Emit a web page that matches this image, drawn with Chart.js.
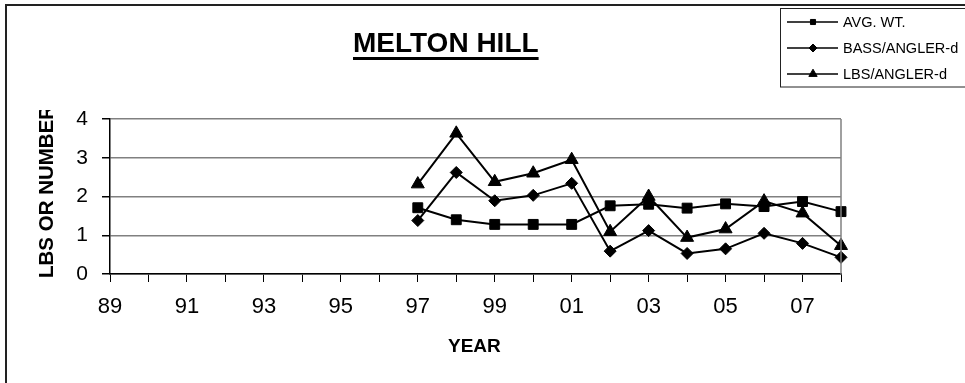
<!DOCTYPE html>
<html>
<head>
<meta charset="utf-8">
<title>Melton Hill</title>
<script src="https://cdn.jsdelivr.net/npm/chart.js@4.4.1/dist/chart.umd.min.js"></script>
<style>
  html, body { margin: 0; padding: 0; background: #fff; }
  #wrap { width: 965px; height: 383px; position: relative; }
</style>
</head>
<body>
<div id="wrap"><canvas id="meltonChart"></canvas></div>
<script>
const years = ['1989', '1990', '1991', '1992', '1993', '1994', '1995', '1996', '1997', '1998',
  '1999', '2000', '2001', '2002', '2003', '2004', '2005', '2006', '2007', '2008'];

const avgWt = [null, null, null, null, null, null, null, null,
  1.71, 1.40, 1.28, 1.28, 1.28, 1.76, 1.80, 1.70, 1.81, 1.74, 1.87, 1.61];
const bassPerAngler = [null, null, null, null, null, null, null, null,
  1.38, 2.62, 1.89, 2.03, 2.34, 0.59, 1.12, 0.53, 0.65, 1.05, 0.79, 0.43];
const lbsPerAngler = [null, null, null, null, null, null, null, null,
  2.32, 3.63, 2.38, 2.60, 2.95, 1.09, 2.00, 0.94, 1.16, 1.88, 1.57, 0.73];

const seriesNames = ['AVG. WT.', 'BASS/ANGLER-d', 'LBS/ANGLER-d'];
const yTicks = [0, 1, 2, 3, 4];

const chartTitle = 'MELTON HILL';
const xTitle = 'YEAR';
const yTitle = 'LBS OR NUMBER';

const FONT = '"Liberation Sans", Arial, sans-serif';

// frame, titles and the boxed legend drawn on the canvas
const decorations = {
  id: 'decorations',
  afterDraw(chart) {
    const ctx = chart.ctx;
    const area = chart.chartArea;
    ctx.save();

    // outer chart border (only top and left are inside the picture)
    ctx.strokeStyle = '#222';
    ctx.lineWidth = 2;
    ctx.beginPath();
    ctx.moveTo(6, 390);
    ctx.lineTo(6, 5);
    ctx.lineTo(970, 5);
    ctx.stroke();

    // plot area right edge
    ctx.strokeStyle = '#808080';
    ctx.lineWidth = 1.5;
    ctx.beginPath();
    ctx.moveTo(area.right, area.top);
    ctx.lineTo(area.right, area.bottom);
    ctx.stroke();

    // title, underlined
    ctx.fillStyle = '#000';
    ctx.font = 'bold 28px ' + FONT;
    ctx.textAlign = 'left';
    ctx.textBaseline = 'alphabetic';
    const tw = ctx.measureText(chartTitle).width;
    ctx.fillText(chartTitle, 353, 52);
    ctx.fillRect(353, 57, tw, 3);

    // x axis title
    ctx.font = 'bold 19px ' + FONT;
    ctx.textAlign = 'left';
    ctx.textBaseline = 'middle';
    ctx.fillText(xTitle, 448, 347);

    // y axis title, cut at the top like the original
    ctx.save();
    ctx.beginPath();
    ctx.rect(0, 110, 100, 280);
    ctx.clip();
    ctx.translate(47, 278);
    ctx.rotate(-Math.PI / 2);
    ctx.font = 'bold 20.5px ' + FONT;
    ctx.textAlign = 'left';
    ctx.textBaseline = 'middle';
    ctx.fillText(yTitle, 0, 0);
    ctx.restore();

    // legend box
    ctx.strokeStyle = '#222';
    ctx.lineWidth = 1;
    ctx.strokeRect(780.5, 8.5, 200, 78.5);

    const rowY = [22, 48, 74];
    const legendRadius = [3.6, 4, 4.8];
    chart.data.datasets.forEach((ds, i) => {
      const y = rowY[i];
      ctx.strokeStyle = '#000';
      ctx.fillStyle = '#000';
      ctx.lineWidth = 1.5;
      ctx.beginPath();
      ctx.moveTo(787, y);
      ctx.lineTo(838, y);
      ctx.stroke();
      ctx.lineWidth = 1;
      Chart.helpers.drawPoint(ctx, {
        pointStyle: ds.pointStyle,
        radius: legendRadius[i],
        rotation: 0,
        borderWidth: 1
      }, 813, y);
      ctx.font = '14.5px ' + FONT;
      ctx.textAlign = 'left';
      ctx.textBaseline = 'middle';
      ctx.fillText(ds.label, 843, y + 1);
    });

    ctx.restore();
  }
};

const ctx = document.getElementById('meltonChart').getContext('2d');
new Chart(ctx, {
  type: 'line',
  data: {
    labels: years,
    datasets: [
      {
        label: seriesNames[0],
        data: avgWt,
        pointStyle: 'rect',
        pointRadius: 7
      },
      {
        label: seriesNames[1],
        data: bassPerAngler,
        pointStyle: 'rectRot',
        pointRadius: 6
      },
      {
        label: seriesNames[2],
        data: lbsPerAngler,
        pointStyle: 'triangle',
        pointRadius: 7.5
      }
    ].map(ds => Object.assign({
      borderColor: '#000',
      backgroundColor: '#000',
      pointBackgroundColor: '#000',
      pointBorderColor: '#000',
      pointBorderWidth: 1,
      borderWidth: 2,
      tension: 0,
      spanGaps: false,
      pointHoverRadius: ds.pointRadius
    }, ds))
  },
  options: {
    responsive: true,
    maintainAspectRatio: false,
    animation: false,
    layout: {
      padding: { top: 119, right: 124, left: 0, bottom: 0 }
    },
    plugins: {
      legend: { display: false },
      title: { display: false },
      tooltip: { enabled: false }
    },
    scales: {
      x: {
        type: 'category',
        offset: false,
        afterFit: s => { s.height = 109; },
        border: { color: '#000', width: 1.5 },
        grid: {
          drawOnChartArea: false,
          drawTicks: true,
          tickLength: 8,
          tickColor: '#000'
        },
        ticks: {
          autoSkip: false,
          maxRotation: 0,
          padding: 12,
          color: '#000',
          font: { family: FONT, size: 22 },
          callback: function (value, index) {
            return index % 2 === 0 ? years[index].slice(2) : '';
          }
        }
      },
      y: {
        min: yTicks[0],
        max: yTicks[yTicks.length - 1],
        afterFit: s => { s.width = 110; },
        afterBuildTicks: s => { s.ticks = yTicks.map(v => ({ value: v })); },
        border: { color: '#000', width: 1.5 },
        grid: {
          color: '#808080',
          lineWidth: 1.5,
          drawTicks: true,
          tickLength: 8,
          tickColor: '#000'
        },
        ticks: {
          padding: 14,
          color: '#000',
          font: { family: FONT, size: 21 }
        }
      }
    }
  },
  plugins: [decorations]
});
</script>
</body>
</html>
